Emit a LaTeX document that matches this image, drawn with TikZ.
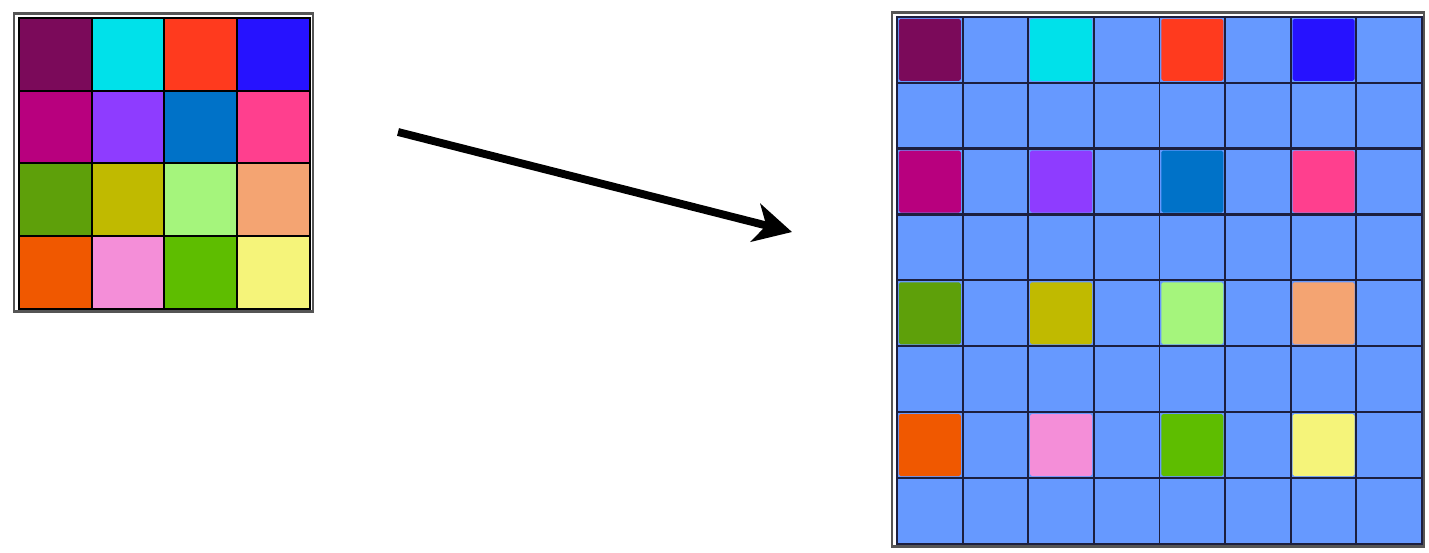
\documentclass[tikz,border=0pt]{standalone}
\usetikzlibrary{arrows.meta}
\definecolor{gridblue}{HTML}{6699FF}
\definecolor{gridline}{HTML}{1C1F3F}
\definecolor{frame}{HTML}{555555}
\definecolor{ca}{HTML}{7B0A5A}
\definecolor{cb}{HTML}{00E1EA}
\definecolor{cc}{HTML}{FF3A1E}
\definecolor{cd}{HTML}{2612FF}
\definecolor{ce}{HTML}{B8007E}
\definecolor{cf}{HTML}{8E3CFF}
\definecolor{cg}{HTML}{0072C8}
\definecolor{ch}{HTML}{FF3F8E}
\definecolor{ci}{HTML}{5EA00A}
\definecolor{cj}{HTML}{C0BA00}
\definecolor{ck}{HTML}{A5F57C}
\definecolor{cl}{HTML}{F4A472}
\definecolor{cm}{HTML}{F05800}
\definecolor{cn}{HTML}{F48ED8}
\definecolor{co}{HTML}{5EBD00}
\definecolor{cp}{HTML}{F5F47A}
\tikzset{
  cell/.style={draw=black, line width=1.1pt, minimum size=1.455cm, inner sep=0pt, anchor=north west},
  bigcell/.style={draw=gridline, line width=1.1pt, fill=gridblue, minimum size=1.3125cm, inner sep=0pt, anchor=north west},
  dot/.style={minimum size=1.24cm, inner sep=0pt, rounded corners=1pt},
  outer/.style={draw=frame, line width=1.4pt}
}
\begin{document}
\begin{tikzpicture}[x=0.02cm, y=-0.02cm, >={Stealth[length=0.75cm, width=0.78cm, inset=0.22cm]}, thick]
\useasboundingbox (0,0) rectangle (1429,552);

\foreach \r/\c/\col in {0/0/ca, 0/1/cb, 0/2/cc, 0/3/cd,
                        1/0/ce, 1/1/cf, 1/2/cg, 1/3/ch,
                        2/0/ci, 2/1/cj, 2/2/ck, 2/3/cl,
                        3/0/cm, 3/1/cn, 3/2/co, 3/3/cp}
  \node[cell, fill=\col] (s\r\c) at (18+72.75*\c, 17+72.75*\r) {};
\node[outer, minimum width=5.98cm, minimum height=5.96cm, inner sep=0pt] (small) at (163.5,162.5) {};

\foreach \r in {0,...,7}
  \foreach \c in {0,...,7}
    \node[bigcell] (b\r\c) at (896+65.625*\c, 16+65.875*\r) {};
\foreach \r/\c/\col in {0/0/ca, 0/2/cb, 0/4/cc, 0/6/cd,
                        2/0/ce, 2/2/cf, 2/4/cg, 2/6/ch,
                        4/0/ci, 4/2/cj, 4/4/ck, 4/6/cl,
                        6/0/cm, 6/2/cn, 6/4/co, 6/6/cp}
  \node[dot, fill=\col] at (b\r\c.center) {};
\node[outer, minimum width=10.64cm, minimum height=10.68cm, inner sep=0pt] (big) at (1158,279.5) {};

\coordinate (from) at (398,132);
\coordinate (to) at (792,232);
\draw[->, line width=4.5pt] (from) -- (to);
\end{tikzpicture}
\end{document}
